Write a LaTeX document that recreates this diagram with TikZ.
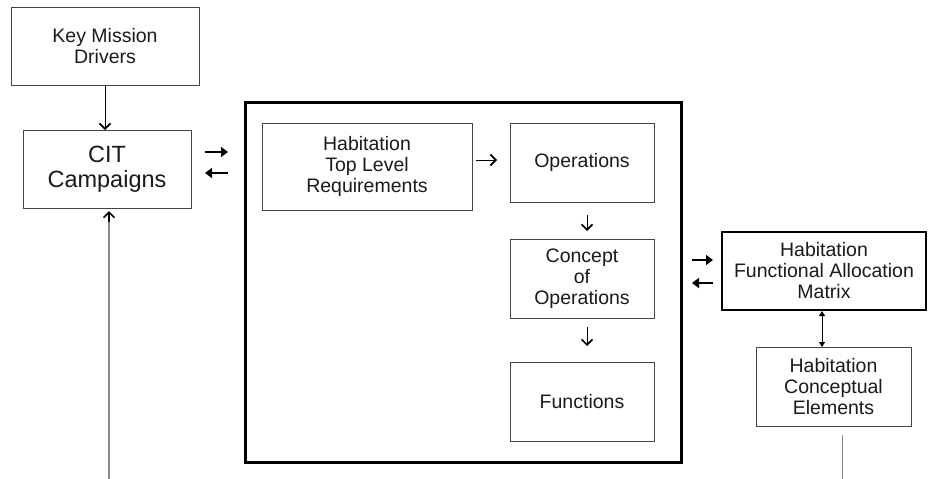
\documentclass[tikz,border=0pt]{standalone}
\usepackage{fontspec}
\setmainfont{Liberation Sans}
\usetikzlibrary{arrows.meta}
\definecolor{boxline}{HTML}{444444}
\definecolor{txt}{HTML}{1A1A1A}
\definecolor{feed}{HTML}{8A8A8A}
\tikzset{
  px/.style={x=1pt,y=-1pt},
  boxnode/.style={draw=boxline,line width=0.9pt,inner sep=0pt,outer sep=0pt,anchor=north west,align=center,text=txt,font=\fontsize{19.5}{21}\selectfont},
  thinarrow/.style={draw=black,line width=1pt,-{Straight Barb[length=5.5pt,width=11pt,line width=1.6pt]}},
  fatarrow/.style={draw=black,line width=2.8pt,-{Triangle[length=7pt,width=10pt]}},
  twoarrow/.style={draw=black,line width=1pt,{Triangle[length=5pt,width=6pt]}-{Triangle[length=5pt,width=6pt]}},
}
\begin{document}
\begin{tikzpicture}[px]
\useasboundingbox[fill=white] (0,0) rectangle (929,479);
% nodes
\node[boxnode,minimum width=188pt,minimum height=78pt] (kmd) at (11,7) {Key Mission\\Drivers};
\node[boxnode,minimum width=168pt,minimum height=78pt,font=\fontsize{23.5}{25}\selectfont] (cit) at (23,130) {CIT\\Campaigns};
\node[draw=black,line width=3pt,inner sep=0pt,outer sep=0pt,anchor=north west,minimum width=436pt,minimum height=360pt] (big) at (245,102) {};
\node[boxnode,minimum width=210pt,minimum height=87pt] (htlr) at (262,123) {Habitation\\Top Level\\Requirements};
\node[boxnode,minimum width=144pt,minimum height=79pt] (ops) at (510,123) {Operations};
\node[boxnode,minimum width=144pt,minimum height=79pt] (conops) at (510,239) {Concept\\of\\Operations};
\node[boxnode,minimum width=144pt,minimum height=79pt] (func) at (510,362) {Functions};
\node[boxnode,draw=black,line width=2pt,minimum width=204pt,minimum height=78pt] (hfam) at (722,232) {Habitation\\Functional Allocation\\Matrix};
\node[boxnode,minimum width=155pt,minimum height=79pt] (hce) at (756,347) {Habitation\\Conceptual\\Elements};
% free ends
\coordinate (citin) at (109,479);
\coordinate (hceout0) at (842,435);
\coordinate (hceout1) at (842,479);
% connectors
\draw[thinarrow] (kmd.south) -- (kmd.south |- cit.north);
\draw[fatarrow] ([yshift=-22pt]cit.north east) ++(14,0) -- ++(23,0);
\draw[fatarrow] ([yshift=-43pt]cit.north east -| big.west) ++(-17,0) -- ++(-23,0);
\draw[thinarrow,shorten <=4pt,shorten >=13pt] ([yshift=2.5pt]ops.west -| htlr.east) -- ([yshift=2.5pt]ops.west);
\draw[thinarrow,shorten <=13pt,shorten >=8pt] ([xshift=5pt]ops.south) -- ([xshift=5pt]conops.north);
\draw[thinarrow,shorten <=9pt,shorten >=16pt] ([xshift=5pt]conops.south) -- ([xshift=5pt]func.north);
\draw[fatarrow] ([yshift=-28pt]hfam.north west -| big.east) ++(11,0) -- ++(21,0);
\draw[fatarrow] ([yshift=-51pt]hfam.north west) ++(-9,0) -- ++(-21,0);
\draw[twoarrow] ([xshift=-2pt]hfam.south) ++(0,1) -- ([xshift=-2pt]hfam.south |- hce.north);
\draw[feed,line width=1pt] (hceout0) -- (hceout1);
\draw[feed,line width=1.2pt] (citin) -- ([yshift=-6pt]citin |- cit.south);
\draw[black,line width=1.1pt,-{Straight Barb[length=5.5pt,width=11pt,line width=1.6pt]}] ([yshift=-14pt]citin |- cit.south) -- ([yshift=-3pt]citin |- cit.south);
\end{tikzpicture}
\end{document}
